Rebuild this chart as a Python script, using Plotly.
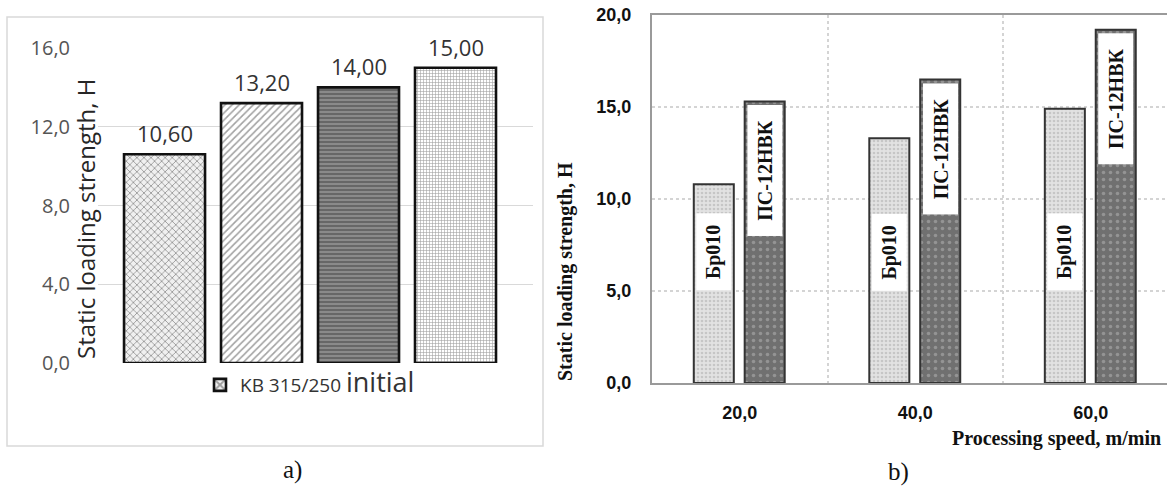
import plotly.graph_objects as go

# ---- data: panel a) ----
a_categories = ["A", "B", "C", "D"]
a_values = [10.60, 13.20, 14.00, 15.00]
a_series_name = "KB 315/250 <span style='font-size:27px'>initial</span>"
a_yticks = [0, 4, 8, 12, 16]

# ---- data: panel b) ----
b_categories = ["20,0", "40,0", "60,0"]
b_bronze = [10.8, 13.3, 14.9]      # Бр010
b_ps = [15.3, 16.5, 19.2]          # ПС-12НВК
b_names = ["Бр010", "ПС-12НВК"]
b_yticks = [0, 5, 10, 15, 20]

W, H = 1167, 488

def px_x(p):
    return p / W

def px_y(p):
    return 1 - p / H

fig = go.Figure()

# ---------- panel a ----------
fig.add_trace(go.Bar(
    x=list(range(len(a_values))), y=a_values, name=a_series_name,
    xaxis="x", yaxis="y", width=0.835, showlegend=True,
    marker=dict(
        color=["#f0f0f0", "#ffffff", "#8a8a8a", "#ffffff"],
        line=dict(color="#111111", width=2.6),
        pattern=dict(
            shape=["x", "/", "-", "+"],
            fgcolor=["#4a4a4a", "#5a5a5a", "#1a1a1a", "#a8a8a8"],
            bgcolor=["#f0f0f0", "#ffffff", "#a0a0a0", "#ffffff"],
            size=[5, 5, 4, 3],
            solidity=[0.32, 0.32, 0.5, 0.35],
        ),
    ),
    hoverinfo="skip",
))

for i, v in enumerate(a_values):
    fig.add_annotation(
        x=i, y=v, xref="x", yref="y", text=f"{v:.2f}".replace(".", ","),
        showarrow=False, xanchor="center", yanchor="middle", yshift=21,
        font=dict(family="Open Sans", size=22, color="#333333"),
    )

# ---------- panel b ----------
bw = 0.228
off_br = -0.262
off_ps = 0.028
fig.add_trace(go.Bar(
    x=b_categories, y=b_bronze, name=b_names[0], xaxis="x2", yaxis="y2",
    width=bw, offset=off_br, showlegend=False,
    marker=dict(color="#dadada", line=dict(color="#333333", width=2),
                pattern=dict(shape=".", fgcolor="#a9a9a9", bgcolor="#e2e2e2",
                             size=4, solidity=0.35)),
    hoverinfo="skip",
))
fig.add_trace(go.Bar(
    x=b_categories, y=b_ps, name=b_names[1], xaxis="x2", yaxis="y2",
    width=bw, offset=off_ps, showlegend=False,
    marker=dict(color="#747474", line=dict(color="#333333", width=2),
                pattern=dict(shape=".", fgcolor="#b8b8b8", bgcolor="#707070",
                             size=7, solidity=0.2)),
    hoverinfo="skip",
))

label_font = dict(family="Liberation Serif", size=20, color="#111111")
for i, v in enumerate(b_bronze):
    fig.add_annotation(
        x=i + off_br + bw / 2, y=5.0, xref="x2", yref="y2", text="<b>" + b_names[0] + "</b>",
        textangle=-90, showarrow=False, xanchor="center", yanchor="bottom",
        width=74, height=32, bgcolor="white", font=label_font,
    )
for i, v in enumerate(b_ps):
    fig.add_annotation(
        x=i + off_ps + bw / 2, y=v - 0.18, xref="x2", yref="y2", text="<b>" + b_names[1] + "</b>",
        textangle=-90, showarrow=False, xanchor="center", yanchor="top",
        width=128, height=32, bgcolor="white", font=label_font,
    )

# axis titles / captions
fig.add_annotation(
    x=px_x(85), y=px_y(219), xref="paper", yref="paper", xanchor="center", yanchor="middle",
    text="Static loading strength, H", textangle=-90, showarrow=False,
    font=dict(family="Open Sans", size=24, color="#262626"),
)
fig.add_annotation(
    x=px_x(565), y=px_y(272), xref="paper", yref="paper", xanchor="center", yanchor="middle",
    text="<b>Static loading strength, H</b>", textangle=-90, showarrow=False,
    font=dict(family="Liberation Serif", size=20, color="#111111"),
)
fig.add_annotation(
    x=px_x(1163), y=px_y(438), xref="paper", yref="paper", xanchor="right", yanchor="middle",
    text="<b>Processing speed, m/min</b>", showarrow=False,
    font=dict(family="Liberation Serif", size=20, color="#111111"),
)
fig.add_annotation(
    x=px_x(292), y=px_y(470), xref="paper", yref="paper", xanchor="center", yanchor="middle",
    text="a)", showarrow=False,
    font=dict(family="Liberation Serif", size=25, color="#111111"),
)
fig.add_annotation(
    x=px_x(898), y=px_y(472), xref="paper", yref="paper", xanchor="center", yanchor="middle",
    text="b)", showarrow=False,
    font=dict(family="Liberation Serif", size=25, color="#111111"),
)

# frame around panel a
fig.add_shape(type="rect", xref="paper", yref="paper",
              x0=px_x(7), x1=px_x(543), y0=px_y(446), y1=px_y(17),
              line=dict(color="#d9d9d9", width=1.5), fillcolor="rgba(0,0,0,0)")

fig.update_layout(
    width=W, height=H, margin=dict(l=0, r=0, t=0, b=0, autoexpand=False),
    paper_bgcolor="white", plot_bgcolor="white",
    separators=", ", barmode="overlay",
    xaxis=dict(domain=[px_x(98), px_x(533)], range=[-0.686, 3.799], automargin=False,
               showgrid=False, zeroline=False, showticklabels=False, showline=False),
    yaxis=dict(domain=[px_y(363), px_y(48)], range=[0, 16], tickvals=a_yticks,
               tickformat=".1f", showgrid=True, gridcolor="#d9d9d9", gridwidth=1,
               zeroline=False, showline=False, ticklabelstandoff=27, automargin=False,
               tickfont=dict(family="Open Sans", size=20, color="#555555")),
    xaxis2=dict(domain=[px_x(652), 1.0], range=[-0.5, 2.434], type="category",
                tickson="boundaries", showgrid=True, gridcolor="#d4d4d4",
                griddash="dot", gridwidth=1.5, showline=True, linecolor="#9a9a9a",
                linewidth=2, mirror=True, ticks="", ticklabelstandoff=12, anchor="y2",
                automargin=False,
                tickfont=dict(family="Liberation Sans", size=18, color="#111111", weight="bold")),
    yaxis2=dict(domain=[px_y(383), px_y(15)], range=[0, 20], tickvals=b_yticks,
                tickformat=".1f", showgrid=True, gridcolor="#d4d4d4", griddash="dot",
                gridwidth=1.5, zeroline=False, showline=True, linecolor="#9a9a9a",
                linewidth=2, ticks="", ticklabelstandoff=15, anchor="x2", automargin=False,
                tickfont=dict(family="Liberation Sans", size=18, color="#111111", weight="bold")),
    legend=dict(x=px_x(200), y=px_y(366), xanchor="left", yanchor="top",
                bgcolor="rgba(0,0,0,0)", itemwidth=30,
                font=dict(family="Open Sans", size=19, color="#333333")),
)

fig.write_html("out.html")
